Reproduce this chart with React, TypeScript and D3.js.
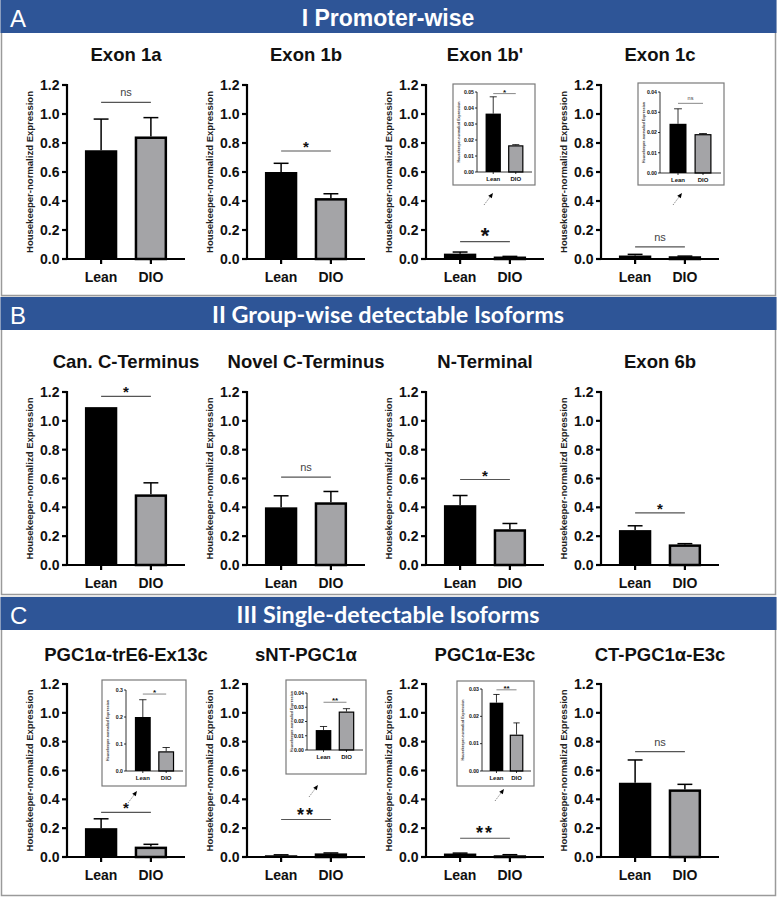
import React from "react";
import * as d3 from "d3";

// ---------- data ----------
const groups = ["Lean", "DIO"];
const sectionLetters = ["A", "B", "C"];
const sectionTitles = ["I Promoter-wise", "II Group-wise detectable Isoforms", "III Single-detectable Isoforms"];
const yTickValues = [0, 0.2, 0.4, 0.6, 0.8, 1.0, 1.2];
const yLabelText = "Housekeeper-normalizd Expression";

const chartTitles = [
  "Exon 1a", "Exon 1b", "Exon 1b'", "Exon 1c",
  "Can. C-Terminus", "Novel C-Terminus", "N-Terminal", "Exon 6b",
  "PGC1α-trE6-Ex13c", "sNT-PGC1α", "PGC1α-E3c", "CT-PGC1α-E3c",
];
const leanMean = [0.75, 0.60, 0.037, 0.024, 1.095, 0.40, 0.415, 0.242, 0.20, 0.012, 0.024, 0.515];
const leanSem = [0.215, 0.06, 0.011, 0.008, 0.0, 0.08, 0.067, 0.03, 0.065, 0.003, 0.003, 0.158];
const dioMean = [0.845, 0.42, 0.017, 0.019, 0.49, 0.435, 0.248, 0.143, 0.072, 0.025, 0.012, 0.469];
const dioSem = [0.13, 0.03, 0.001, 0.001, 0.08, 0.075, 0.04, 0.005, 0.016, 0.003, 0.004, 0.035];
const sigLabel = ["ns", "*", "*", "ns", "*", "ns", "*", "*", "*", "**", "**", "ns"];
const sigHeight = [1.08, 0.745, 0.12, 0.083, 1.17, 0.61, 0.593, 0.362, 0.31, 0.26, 0.13, 0.731];

// insets (zoomed views)
const insetOf = [2, 3, 8, 9, 10];
const insetMax = [0.05, 0.04, 0.3, 0.04, 0.03];
const insetStep = [0.01, 0.01, 0.1, 0.01, 0.01];
const insetLeanMean = [0.0365, 0.0243, 0.2, 0.014, 0.025];
const insetLeanSem = [0.0105, 0.0074, 0.064, 0.0025, 0.003];
const insetDioMean = [0.0167, 0.0192, 0.073, 0.027, 0.0133];
const insetDioSem = [0.0004, 0.0003, 0.014, 0.002, 0.0043];
const insetSigLabel = ["*", "ns", "*", "**", "**"];
const insetSigHeight = [0.049, 0.0344, 0.285, 0.0335, 0.0297];

// ---------- layout ----------
const W = 777;
const H = 898;
const BLUE = "#2e5597";
const GREY_FILL = "#a4a4a7";
const FONT = "'Liberation Sans', Arial, Helvetica, sans-serif";

const sections = [
  { top: 0, bandH: 33, bottom: 295, titleFont: FONT, titleLen: 0 },
  { top: 297, bandH: 33, bottom: 594, titleFont: "Lato, 'Open Sans', sans-serif", titleLen: 352 },
  { top: 597, bandH: 33, bottom: 895, titleFont: "Lato, 'Open Sans', sans-serif", titleLen: 303 },
];
const rows = [
  { titleY: 61, yTop: 85, y0: 259 },
  { titleY: 368, yTop: 392, y0: 565 },
  { titleY: 661, yTop: 684, y0: 857 },
];
const colX = [67, 247, 426, 601];
const plotW = 118;

const insetLayout = [
  { dx: 27, dy: -1, w: 82, h: 101, axisDx: 24, top: 8, base: 88, arrowDx: 40, arrowDy: 8 },
  { dx: 37, dy: -2, w: 86, h: 102, axisDx: 22, top: 9, base: 90, arrowDx: 44, arrowDy: 8 },
  { dx: 35, dy: -4, w: 84, h: 106, axisDx: 24, top: 10, base: 91, arrowDx: 35, arrowDy: 5 },
  { dx: 39, dy: -4, w: 80, h: 94, axisDx: 21, top: 13, base: 70, arrowDx: 32, arrowDy: 11 },
  { dx: 31, dy: -3, w: 77, h: 105, axisDx: 25, top: 8, base: 90, arrowDx: 47, arrowDy: 3 },
];

function SigMark({ label, x1, x2, y, big, small }: any) {
  const cx = (x1 + x2) / 2;
  const isNs = label === "ns";
  let fs = isNs ? 11 : big ? 22 : label === "**" ? 18 : 15;
  if (small) fs = isNs ? 5.5 : 8;
  const dyText = isNs ? (small ? -3 : -6) : 1;
  return (
    <g>
      <line x1={x1} x2={x2} y1={y} y2={y} stroke="#555" strokeWidth={small ? 0.7 : 1.2} />
      <text
        x={cx}
        y={y + dyText}
        textAnchor="middle"
        fontFamily={FONT}
        fontWeight={isNs ? 400 : 700}
        fontSize={fs}
        fill={isNs ? "#444" : "#111"}
        letterSpacing={label === "**" && !small ? 2 : 0}
      >
        {label}
      </text>
    </g>
  );
}

function Bars({ x, y, means, sems, big }: any) {
  const bw = x.bandwidth();
  const sw = big ? 2.5 : 1.2;
  return (
    <g>
      {groups.map((g, k) => {
        const m = means[k];
        const s = sems[k];
        const bx = x(g)!;
        const cx = bx + bw / 2;
        const top = y(m);
        const base = y(0);
        const errTop = y(m + s);
        const capW = bw * 0.46;
        return (
          <g key={g}>
            {k === 0 ? (
              <rect x={bx} y={top} width={bw} height={Math.max(base - top, 0.5)} fill="#000" />
            ) : (
              <rect
                x={bx + sw / 2}
                y={top + sw / 2}
                width={bw - sw}
                height={Math.max(base - top - sw / 2, 0.3)}
                fill={GREY_FILL}
                stroke="#000"
                strokeWidth={sw}
              />
            )}
            {s > 0 && (
              <g stroke="#000" strokeWidth={big ? 1.5 : 0.8}>
                <line x1={cx} x2={cx} y1={top} y2={errTop} />
                <line x1={cx - capW / 2} x2={cx + capW / 2} y1={errTop} y2={errTop} />
              </g>
            )}
          </g>
        );
      })}
    </g>
  );
}

function Inset({ j, x0, row }: any) {
  const L = insetLayout[j];
  const bx = x0 + L.dx;
  const by = row.yTop + L.dy;
  const ax = bx + L.axisDx;
  const xEnd = bx + L.w - 3;
  const y = d3.scaleLinear().domain([0, insetMax[j]]).range([by + L.base, by + L.top]);
  const x = d3.scaleBand().domain(groups).range([ax, xEnd]).paddingInner(0.32).paddingOuter(0.38);
  const ticks = d3.range(0, insetMax[j] + insetStep[j] / 2, insetStep[j]);
  const fmt = insetStep[j] >= 0.1 ? d3.format(".1f") : d3.format(".2f");
  const c0 = x(groups[0])! + x.bandwidth() / 2;
  const c1 = x(groups[1])! + x.bandwidth() / 2;
  const hx = bx + L.arrowDx;
  const hy = by + L.h + L.arrowDy;
  const tx = hx - 9;
  const ty = hy + 12;
  const ang = Math.atan2(hy - ty, hx - tx);
  const ah = 5;
  const p1 = [hx - ah * Math.cos(ang) + 2.2 * Math.sin(ang), hy - ah * Math.sin(ang) - 2.2 * Math.cos(ang)];
  const p2 = [hx - ah * Math.cos(ang) - 2.2 * Math.sin(ang), hy - ah * Math.sin(ang) + 2.2 * Math.cos(ang)];
  return (
    <g>
      <rect x={bx} y={by} width={L.w} height={L.h} fill="#fff" stroke="#7a7a7a" strokeWidth={1.2} />
      <text
        transform={`translate(${bx + 7},${(y(0) + y(insetMax[j])) / 2}) rotate(-90)`}
        textAnchor="middle"
        fontFamily={FONT}
        fontSize={3.6}
        fontWeight={700}
        fill="#333"
      >
        {yLabelText}
      </text>
      <line x1={ax} x2={ax} y1={y(0)} y2={y(insetMax[j])} stroke="#000" strokeWidth={0.8} />
      {ticks.map((t) => (
        <g key={t}>
          <line x1={ax - 2} x2={ax} y1={y(t)} y2={y(t)} stroke="#000" strokeWidth={0.8} />
          <text x={ax - 3} y={y(t) + 1.8} textAnchor="end" fontFamily={FONT} fontSize={5.2} fontWeight={700} fill="#111">
            {fmt(t)}
          </text>
        </g>
      ))}
      <Bars x={x} y={y} means={[insetLeanMean[j], insetDioMean[j]]} sems={[insetLeanSem[j], insetDioSem[j]]} big={false} />
      <line x1={ax} x2={xEnd} y1={y(0)} y2={y(0)} stroke="#000" strokeWidth={0.8} />
      {groups.map((g) => {
        const c = x(g)! + x.bandwidth() / 2;
        return (
          <g key={g}>
            <line x1={c} x2={c} y1={y(0)} y2={y(0) + 2} stroke="#000" strokeWidth={0.8} />
            <text x={c} y={y(0) + 9} textAnchor="middle" fontFamily={FONT} fontSize={6} fontWeight={700} fill="#111">
              {g}
            </text>
          </g>
        );
      })}
      <SigMark label={insetSigLabel[j]} x1={c0} x2={c1} y={y(insetSigHeight[j])} small />
      <line x1={tx} y1={ty} x2={hx - 3 * Math.cos(ang)} y2={hy - 3 * Math.sin(ang)} stroke="#888" strokeWidth={1} strokeDasharray="1.5,1.2" />
      <polygon points={`${hx},${hy} ${p1[0]},${p1[1]} ${p2[0]},${p2[1]}`} fill="#000" />
    </g>
  );
}

function Chart({ i }: any) {
  const r = Math.floor(i / 4);
  const c = i % 4;
  const row = rows[r];
  const x0 = colX[c];
  const y = d3.scaleLinear().domain([0, 1.2]).range([row.y0, row.yTop]);
  const x = d3.scaleBand().domain(groups).range([x0, x0 + plotW]).paddingInner(0.35).paddingOuter(0.36);
  const fmt = d3.format(".1f");
  const c0 = x(groups[0])! + x.bandwidth() / 2;
  const c1 = x(groups[1])! + x.bandwidth() / 2;
  const j = insetOf.indexOf(i);
  return (
    <g>
      <text x={x0 + 59} y={row.titleY} textAnchor="middle" fontFamily={FONT} fontWeight={700} fontSize={18.5} fill="#111">
        {chartTitles[i]}
      </text>
      <text
        transform={`translate(${x0 - 34},${(row.y0 + row.yTop) / 2}) rotate(-90)`}
        textAnchor="middle"
        fontFamily={FONT}
        fontSize={9.2}
        fontWeight={700}
        fill="#222"
        textLength={162}
        lengthAdjust="spacingAndGlyphs"
      >
        {yLabelText}
      </text>
      <line x1={x0} x2={x0} y1={y(0) + 1} y2={y(1.2) - 1} stroke="#000" strokeWidth={2.2} />
      {yTickValues.map((t) => (
        <g key={t}>
          <line x1={x0 - 5} x2={x0} y1={y(t)} y2={y(t)} stroke="#000" strokeWidth={2.2} />
          <text x={x0 - 7.5} y={y(t) + 5} textAnchor="end" fontFamily={FONT} fontSize={14} fontWeight={700} fill="#111">
            {fmt(t)}
          </text>
        </g>
      ))}
      <Bars x={x} y={y} means={[leanMean[i], dioMean[i]]} sems={[leanSem[i], dioSem[i]]} big />
      <line x1={x0 - 1} x2={x0 + plotW} y1={y(0)} y2={y(0)} stroke="#000" strokeWidth={2.2} />
      {groups.map((g) => {
        const cc = x(g)! + x.bandwidth() / 2;
        return (
          <g key={g}>
            <line x1={cc} x2={cc} y1={y(0)} y2={y(0) + 5} stroke="#000" strokeWidth={2.2} />
            <text x={cc} y={y(0) + 23} textAnchor="middle" fontFamily={FONT} fontSize={14} fontWeight={700} fill="#111">
              {g}
            </text>
          </g>
        );
      })}
      <SigMark label={sigLabel[i]} x1={c0} x2={c1} y={y(sigHeight[i])} big={i === 2} />
      {j >= 0 && <Inset j={j} x0={x0} row={row} />}
    </g>
  );
}

export default function App() {
  return (
    <svg
      width={W}
      height={H}
      viewBox={`0 0 ${W} ${H}`}
      style={{ position: "absolute", left: 0, top: 0, display: "block", background: "#fff" }}
    >
      <rect x={0} y={0} width={W} height={H} fill="#fff" />
      {sections.map((s, k) => (
        <g key={k}>
          <rect x={1.5} y={s.top + 0.5} width={W - 3} height={s.bottom - s.top} fill="#fff" stroke="#9a9a9a" strokeWidth={1.5} />
          <rect x={0.5} y={s.top} width={W - 1} height={s.bandH} fill={BLUE} />
          <text x={10} y={s.top + 27} fontFamily={FONT} fontSize={24} fill="#fff">
            {sectionLetters[k]}
          </text>
          <text
            x={388}
            y={s.top + 26}
            textAnchor="middle"
            fontFamily={s.titleFont}
            fontWeight={700}
            fontSize={23}
            fill="#fff"
            {...(s.titleLen ? { textLength: s.titleLen, lengthAdjust: "spacingAndGlyphs" } : {})}
          >
            {sectionTitles[k]}
          </text>
        </g>
      ))}
      {chartTitles.map((_, i) => (
        <Chart key={i} i={i} />
      ))}
    </svg>
  );
}
